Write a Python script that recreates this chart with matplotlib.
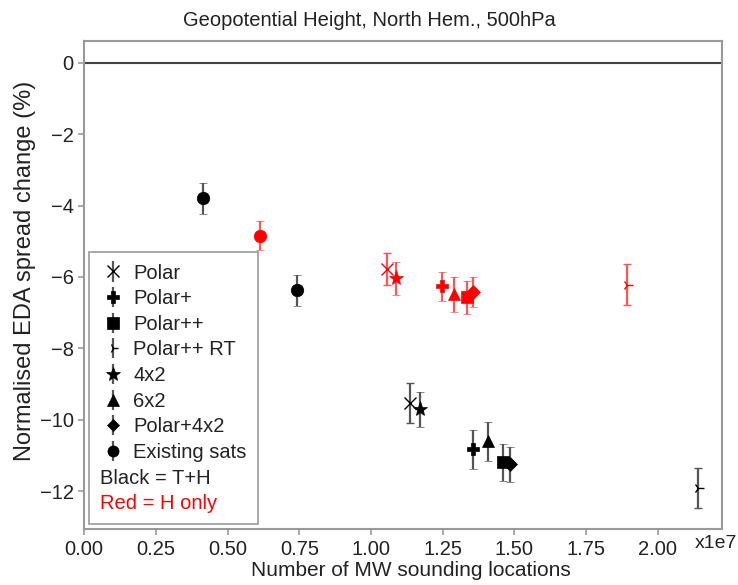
import matplotlib
matplotlib.use("Agg")
import matplotlib.pyplot as plt
from matplotlib.lines import Line2D

plt.rcParams['font.family'] = ['Liberation Sans', 'DejaVu Sans']

# Constellation names and the marker used for each
names = ["Polar", "Polar+", "Polar++", "Polar++ RT", "4x2", "6x2", "Polar+4x2", "Existing sats"]
markers = ["x", "P", "s", "4", "*", "^", "D", "o"]

# Temperature + humidity experiments (black)
th_x = [1.136e7, 1.357e7, 1.461e7, 2.140e7, 1.171e7, 1.409e7, 1.484e7, 0.415e7]
th_y = [-9.54, -10.83, -11.19, -11.91, -9.71, -10.60, -11.25, -3.80]
th_err = [0.56, 0.54, 0.52, 0.57, 0.49, 0.54, 0.48, 0.44]

# Humidity-only experiments (red)
h_x = [1.057e7, 1.246e7, 1.336e7, 1.891e7, 1.089e7, 1.290e7, 1.357e7, 0.613e7]
h_y = [-5.78, -6.26, -6.57, -6.22, -6.04, -6.48, -6.41, -4.84]
h_err = [0.44, 0.40, 0.47, 0.57, 0.46, 0.49, 0.42, 0.41]

# second existing-sats point with T+H
extra_x = [0.741e7]
extra_y = [-6.37]
extra_err = [0.43]

fig, ax = plt.subplots(figsize=(7.38, 5.85), dpi=100)
fig.subplots_adjust(left=0.114, right=0.978, top=0.930, bottom=0.095)

ax.axhline(0, color="#444444", lw=1.5, zorder=1)

msize = {"x": 9, "P": 9, "s": 9, "4": 8, "*": 11, "^": 9, "D": 7, "o": 9}


def draw(xs, ys, errs, mk, col, ecol):
    ax.errorbar(xs, ys, yerr=errs, fmt=mk, color=col, ecolor=ecol,
                elinewidth=1.6, capsize=3, capthick=1.2, ms=msize[mk],
                markeredgewidth=1.0 if mk in ("x", "4") else 0.5, zorder=3)


for i, mk in enumerate(markers):
    draw([th_x[i]], [th_y[i]], [th_err[i]], mk, "black", "#555555")
    draw([h_x[i]], [h_y[i]], [h_err[i]], mk, "red", "#ff5555")
draw(extra_x, extra_y, extra_err, "o", "black", "#555555")

ax.set_xlim(0, 2.223e7)
ax.set_ylim(-13.07, 0.61)
ax.set_xticks([0, 0.25e7, 0.5e7, 0.75e7, 1.0e7, 1.25e7, 1.5e7, 1.75e7, 2.0e7])
ax.set_xticklabels(["0.00", "0.25", "0.50", "0.75", "1.00", "1.25", "1.50", "1.75", "2.00"])
ax.set_yticks([0, -2, -4, -6, -8, -10, -12])
ax.set_yticklabels(["0", "\u22122", "\u22124", "\u22126", "\u22128", "\u221210", "\u221212"])
ax.tick_params(labelsize=14.5, colors="#999999", labelcolor="#222222", width=1.2, length=4)
for sp in ax.spines.values():
    sp.set_color("#999999")
    sp.set_linewidth(1.5)

ax.text(0.958, -0.029, "x1e7", transform=ax.transAxes, fontsize=14, color="#222222",
        ha="left", va="center")
ax.set_xlabel("Number of MW sounding locations", fontsize=15, color="#222222", labelpad=5)
ax.xaxis.set_label_coords(0.512, -0.064)
ax.set_ylabel("Normalised EDA spread change (%)", fontsize=17, color="#222222")
ax.yaxis.set_label_coords(-0.076, 0.53)
ax.set_title("Geopotential Height, North Hem., 500hPa", fontsize=14.5, color="#222222",
             pad=11, x=0.447)

handles = []
for mk in markers:
    handles.append(ax.errorbar([], [], yerr=[], fmt=mk, color="black", ecolor="#555555",
                               elinewidth=1.6, capsize=3, ms=msize[mk] - 1,
                               markeredgewidth=1.0 if mk in ("x", "4") else 0.5))
handles += [Line2D([], [], alpha=0), Line2D([], [], alpha=0)]
labels = names + ["Black = T+H", "Red = H only"]
leg = ax.legend(handles, labels, loc="lower left", fontsize=14.5, handlelength=1.3,
                handletextpad=0.35, labelspacing=0.33, borderpad=0.55, borderaxespad=0.25,
                fancybox=False, edgecolor="#999999", framealpha=1,
                bbox_to_anchor=(0.0, 0.0))
leg.get_frame().set_linewidth(1.2)
texts = leg.get_texts()
for t in texts:
    t.set_color("#222222")
texts[-1].set_color("red")

# pull the two note lines left, over the empty handle slot
col = leg._legend_handle_box.get_children()[0]
for row in col.get_children()[-2:]:
    row.get_children()[0].width = 0
    row.sep = 0

fig.savefig("out.png", dpi=100)
